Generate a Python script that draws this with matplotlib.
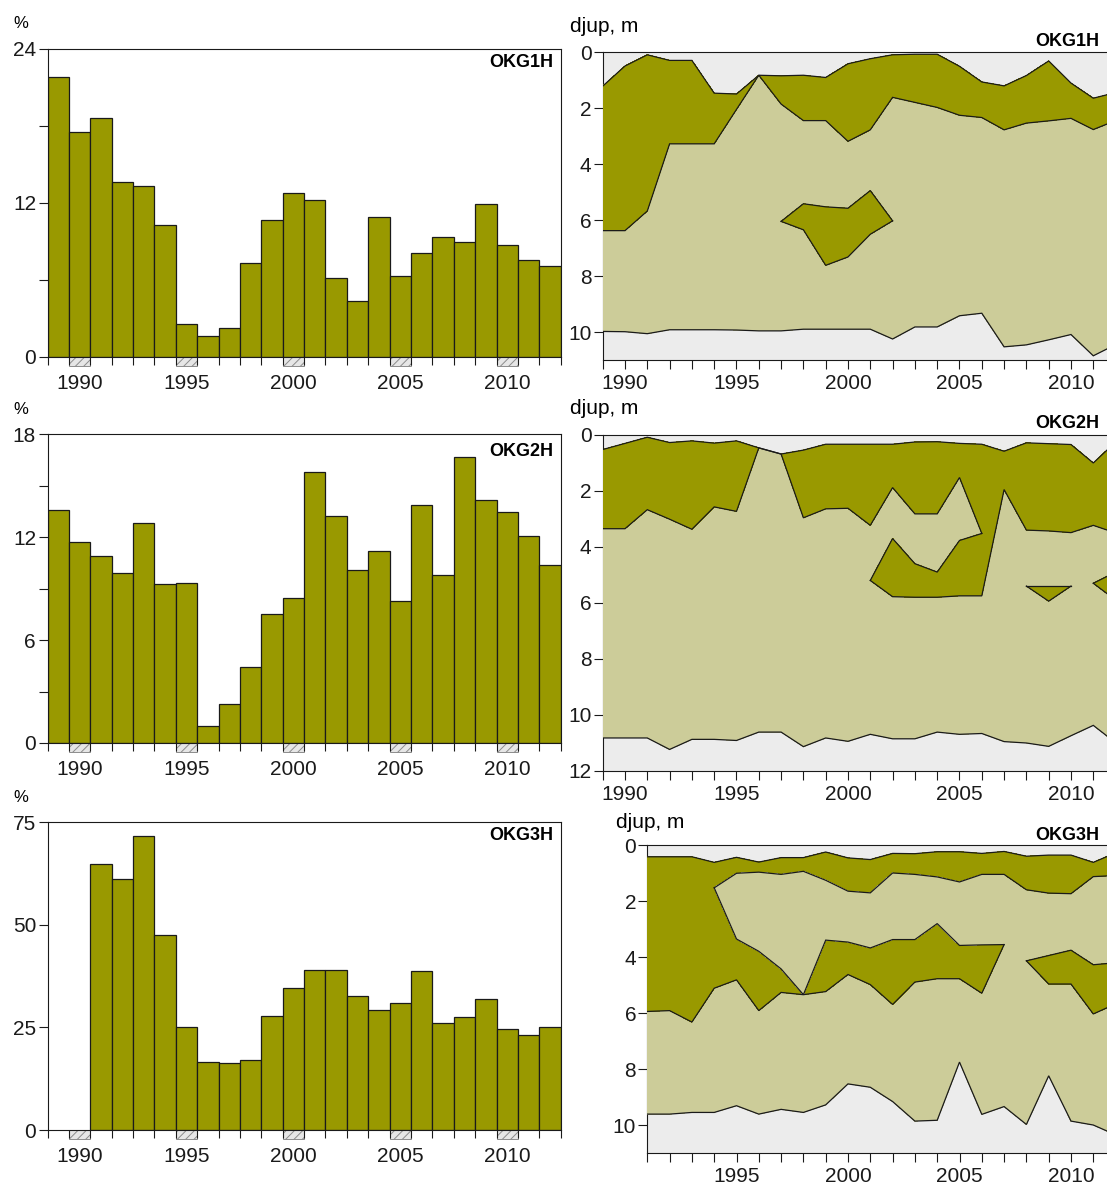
import numpy as np
import matplotlib
matplotlib.use("Agg")
import matplotlib.pyplot as plt
from matplotlib.patches import Rectangle
from matplotlib.ticker import FuncFormatter
import matplotlib.transforms as mtransforms

plt.rcParams['font.family'] = ['Liberation Sans', 'DejaVu Sans']
plt.rcParams['hatch.linewidth'] = 0.7

OLIVE = '#999900'
KHAKI = '#cccc99'
GREY_BG = '#ececec'
INK = '#1a1a1a'

# ---------------- bar charts (percent) ----------------
bar_years = np.arange(1989, 2013)
label_years = [1990, 1995, 2000, 2005, 2010]
okg1_pct = [21.8, 17.5, 18.6, 13.6, 13.35, 10.3, 2.55, 1.6, 2.25, 7.3, 10.7, 12.75,
            12.25, 6.15, 4.35, 10.9, 6.3, 8.05, 9.35, 8.95, 11.9, 8.7, 7.55, 7.05]
okg2_pct = [13.6, 11.75, 10.9, 9.9, 12.85, 9.3, 9.35, 1.0, 2.25, 4.45, 7.55, 8.45,
            15.8, 13.25, 10.1, 11.2, 8.3, 13.9, 9.8, 16.7, 14.2, 13.45, 12.05, 10.4]
okg3_pct = [np.nan, np.nan, 64.7, 61.2, 71.7, 47.5, 25.1, 16.5, 16.2, 17.0, 27.7, 34.5,
            39.0, 39.0, 32.7, 29.3, 30.9, 38.7, 26.1, 27.5, 32.0, 24.5, 23.2, 25.0]

# ---------------- depth charts (m) ----------------
depth_years = np.arange(1989, 2013)
nan = np.nan

# OKG1H
okg1_surface = [1.22, 0.5, 0.1, 0.3, 0.3, 1.47, 1.5, 0.83, 0.85, 0.83, 0.91, 0.42,
                0.24, 0.1, 0.08, 0.08, 0.51, 1.07, 1.21, 0.84, 0.32, 1.11, 1.65, 1.45]
okg1_dense_bottom = [6.38, 6.38, 5.68, 3.28, 3.28, 3.28, 2.05, 0.83, 1.86, 2.45, 2.45, 3.19,
                     2.78, 1.62, 1.8, 1.98, 2.26, 2.34, 2.78, 2.54, 2.46, 2.37, 2.77, 2.45]
okg1_veg_bottom = [9.98, 9.99, 10.06, 9.92, 9.92, 9.92, 9.93, 9.96, 9.96, 9.9, 9.9, 9.9,
                   9.9, 10.25, 9.82, 9.82, 9.42, 9.33, 10.53, 10.46, 10.28, 10.09, 10.85, 10.45]
okg1_patch_years = [1997, 1998, 1999, 2000, 2001, 2002]
okg1_patch_top = [6.05, 5.42, 5.53, 5.58, 4.95, 6.03]
okg1_patch_bottom = [6.05, 6.35, 7.62, 7.32, 6.51, 6.03]

# OKG2H
okg2_surface = [0.52, 0.3, 0.08, 0.27, 0.21, 0.29, 0.21, 0.46, 0.68, 0.54, 0.33, 0.33,
                0.33, 0.33, 0.25, 0.24, 0.3, 0.33, 0.58, 0.28, 0.31, 0.34, 1.0, 0.25]
okg2_dense_bottom = [3.35, 3.35, 2.67, 3.01, 3.37, 2.57, 2.73, 0.46, 0.68, 2.96, 2.64, 2.62,
                     3.23, 1.88, 2.82, 2.82, 1.52, 3.52, nan, nan, nan, nan, nan, nan]
okg2_lobe_top = [nan] * 12 + [5.2, 3.7, 4.6, 4.9, 3.77, 3.52] + [nan] * 6
okg2_lobe_bottom = [nan] * 12 + [5.2, 5.78, 5.8, 5.8, 5.75, 5.75,
                                 1.95, 3.4, 3.43, 3.49, 3.23, 3.5]
okg2_veg_bottom = [10.83, 10.83, 10.83, 11.24, 10.88, 10.88, 10.92, 10.62, 10.62, 11.14,
                   10.83, 10.95, 10.7, 10.86, 10.86, 10.62, 10.7, 10.67, 10.96, 11.01,
                   11.13, 10.75, 10.38, 11.0]
okg2_tri_years = [2008, 2009, 2010]
okg2_tri_top = [5.4, 5.4, 5.4]
okg2_tri_bottom = [5.4, 5.94, 5.4]
okg2_edge_years = [2011, 2012]
okg2_edge_top = [5.3, 4.9]
okg2_edge_bottom = [5.3, 5.9]

# OKG3H (starts 1991)
okg3_years = np.arange(1991, 2013)
okg3_surface = [0.41, 0.41, 0.41, 0.61, 0.43, 0.6, 0.44, 0.44, 0.24, 0.45, 0.51, 0.29,
                0.3, 0.23, 0.23, 0.29, 0.22, 0.39, 0.35, 0.35, 0.61, 0.27]
okg3_dense_bottom = [nan, nan, nan, 1.52, 1.0, 0.96, 1.04, 0.93, 1.25, 1.64, 1.7, 0.99,
                     1.04, 1.13, 1.31, 1.04, 1.04, 1.59, 1.71, 1.73, 1.12, 1.08]
okg3_mid_top = [nan, nan, nan, 1.52, 3.35, 3.79, 4.42, 5.34, 3.39, 3.46, 3.67, 3.37,
                3.37, 2.8, 3.58, 3.56, 3.55, nan, nan, nan, nan, nan]
okg3_mid_bottom = [5.94, 5.91, 6.32, 5.11, 4.81, 5.91, 5.26, 5.34, 5.23, 4.62, 4.98, 5.69,
                   4.89, 4.77, 4.77, 5.29, 3.55, nan, nan, nan, nan, nan]
okg3_veg_bottom = [9.61, 9.61, 9.55, 9.55, 9.31, 9.61, 9.44, 9.55, 9.28, 8.53, 8.65, 9.16,
                   9.86, 9.83, 7.75, 9.62, 9.34, 9.98, 8.24, 9.86, 10.0, 10.35]
okg3_patch_years = [2008, 2009, 2010, 2011, 2012]
okg3_patch_top = [4.13, 3.94, 3.75, 4.27, 4.2]
okg3_patch_bottom = [4.13, 4.96, 4.96, 6.03, 5.67]

# ---------------- layout ----------------
W, H = 1107, 1185
fig = plt.figure(figsize=(W / 100, H / 100), dpi=100)


def add_ax(x0, x1, y0, y1):
    return fig.add_axes([x0 / W, 1 - y1 / H, (x1 - x0) / W, (y1 - y0) / H])


def ftext(x, y, s, **kw):
    fig.text(x / W, 1 - y / H, s, **kw)


FS = 15
LW = 0.8


def style_spines(ax):
    for sp in ax.spines.values():
        sp.set_color(INK)
        sp.set_linewidth(LW)


def bar_panel(ax, values, ymax, major, minor, name, name_dy):
    ax.bar(bar_years, values, width=1.0, color=OLIVE, edgecolor=INK,
           linewidth=0.9, zorder=2)
    ax.set_xlim(1988.5, 2012.5)
    ax.set_ylim(0, ymax)
    ax.set_yticks(major)
    ax.set_yticklabels([str(v) for v in major])
    ax.set_yticks(minor, minor=True)
    ax.set_xticks(np.arange(1988.5, 2013, 1.0))
    ax.set_xticklabels([])
    ax.set_xticks(label_years, minor=True)
    ax.set_xticklabels([str(y) for y in label_years], minor=True)
    ax.tick_params(axis='y', which='both', direction='out', length=6.7, width=LW,
                   pad=1.5, labelsize=FS, colors=INK)
    ax.tick_params(axis='x', which='major', direction='out', length=6.0, width=LW,
                   colors=INK)
    ax.tick_params(axis='x', which='minor', length=0, pad=12.5, labelsize=FS,
                   colors=INK)
    style_spines(ax)
    trans = mtransforms.blended_transform_factory(ax.transData, ax.transAxes)
    for yr in label_years:
        ax.add_patch(Rectangle((yr - 0.5, -0.03), 1.0, 0.03, transform=trans,
                               facecolor='#e6e6e6', edgecolor='#8c8c8c',
                               hatch='////', linewidth=0.7, clip_on=False, zorder=1))
    ax.annotate(name, xy=(1, 1), xycoords='axes fraction', xytext=(-5.5, -name_dy),
                textcoords='offset points', ha='right', va='center', fontsize=13,
                fontweight='bold', color='black')


def depth_axes(ax, xstart, ymax):
    ax.set_facecolor(GREY_BG)
    ax.set_xlim(xstart, 2012)
    ax.set_ylim(ymax, 0)
    ax.set_xticks(np.arange(xstart, 2013, 1))
    ax.xaxis.set_major_formatter(FuncFormatter(
        lambda v, p: str(int(round(v))) if int(round(v)) % 5 == 0 else ''))
    ax.set_yticks(np.arange(0, ymax + 0.1, 2))
    ax.tick_params(axis='both', direction='out', length=6.5, width=LW, labelsize=FS,
                   colors=INK)
    ax.tick_params(axis='y', pad=1.5)
    ax.tick_params(axis='x', pad=3.5)
    style_spines(ax)


def line(ax, x, y):
    ax.plot(x, y, color=INK, linewidth=0.9, zorder=5, solid_joinstyle='miter')


def band(ax, x, top, bottom, color, where=None):
    # no anti-aliasing: adjoining fills tile without seams (outlines are drawn as lines)
    ax.fill_between(x, top, bottom, where=where, facecolor=color, linewidth=0,
                    antialiased=False, interpolate=False, zorder=3)


# ----- left: bar panels -----
ax1 = add_ax(47.5, 560.7, 49, 356.7)
bar_panel(ax1, okg1_pct, 24, [0, 12, 24], [6, 18], 'OKG1H', 9.5)
ax2 = add_ax(47.5, 560.7, 434.5, 743)
bar_panel(ax2, okg2_pct, 18, [0, 6, 12, 18], [3, 9, 15], 'OKG2H', 12)
ax3 = add_ax(47.5, 560.7, 822, 1130)
bar_panel(ax3, okg3_pct, 75, [0, 25, 50, 75], [], 'OKG3H', 10)

for yy in (23, 410, 797):
    ftext(21, yy, '%', ha='center', va='center', fontsize=12)

# ----- right: depth panels -----
yr = depth_years
# OKG1H
ax4 = add_ax(602.7, 1115.6, 52, 360)
depth_axes(ax4, 1989, 11)
band(ax4, yr, okg1_surface, okg1_veg_bottom, KHAKI)
band(ax4, yr, okg1_surface, okg1_dense_bottom, OLIVE)
band(ax4, okg1_patch_years, okg1_patch_top, okg1_patch_bottom, OLIVE)
for arr in (okg1_surface, okg1_dense_bottom, okg1_veg_bottom):
    line(ax4, yr, arr)
line(ax4, okg1_patch_years, okg1_patch_top)
line(ax4, okg1_patch_years, okg1_patch_bottom)

# OKG2H
ax5 = add_ax(602.7, 1115.6, 435, 770.7)
depth_axes(ax5, 1989, 12)
band(ax5, yr, okg2_surface, okg2_veg_bottom, KHAKI)
band(ax5, yr, okg2_surface, okg2_dense_bottom, OLIVE)
band(ax5, yr, okg2_surface, okg2_lobe_bottom, OLIVE, where=(yr >= 2006))
band(ax5, yr, okg2_lobe_top, okg2_lobe_bottom, OLIVE)
band(ax5, okg2_tri_years, okg2_tri_top, okg2_tri_bottom, OLIVE)
band(ax5, okg2_edge_years, okg2_edge_top, okg2_edge_bottom, OLIVE)
for arr in (okg2_surface, okg2_dense_bottom, okg2_lobe_top, okg2_lobe_bottom,
            okg2_veg_bottom):
    line(ax5, yr, arr)
line(ax5, okg2_tri_years, okg2_tri_top)
line(ax5, okg2_tri_years, okg2_tri_bottom)
line(ax5, okg2_edge_years, okg2_edge_top)
line(ax5, okg2_edge_years, okg2_edge_bottom)

# OKG3H
ax6 = add_ax(647.3, 1115.6, 845.3, 1153)
depth_axes(ax6, 1991, 11)
y3 = okg3_years
band(ax6, y3, okg3_surface, okg3_veg_bottom, KHAKI)
band(ax6, y3, okg3_surface, okg3_mid_bottom, OLIVE)
band(ax6, y3, okg3_surface, okg3_dense_bottom, OLIVE, where=(y3 >= 2007))
band(ax6, okg3_patch_years, okg3_patch_top, okg3_patch_bottom, OLIVE)
band(ax6, y3, okg3_dense_bottom, okg3_mid_top, KHAKI)
for arr in (okg3_surface, okg3_dense_bottom, okg3_mid_top, okg3_mid_bottom,
            okg3_veg_bottom):
    line(ax6, y3, arr)
line(ax6, okg3_patch_years, okg3_patch_top)
line(ax6, okg3_patch_years, okg3_patch_bottom)

for (x, y) in ((570.5, 27), (570.5, 408.5), (616, 822.7)):
    ftext(x, y, 'djup, m', ha='left', va='center', fontsize=15)
for (y, nm) in ((42, 'OKG1H'), (423.5, 'OKG2H'), (835, 'OKG3H')):
    ftext(1099, y, nm, ha='right', va='center', fontsize=13, fontweight='bold')

fig.savefig('out.png', dpi=100)
